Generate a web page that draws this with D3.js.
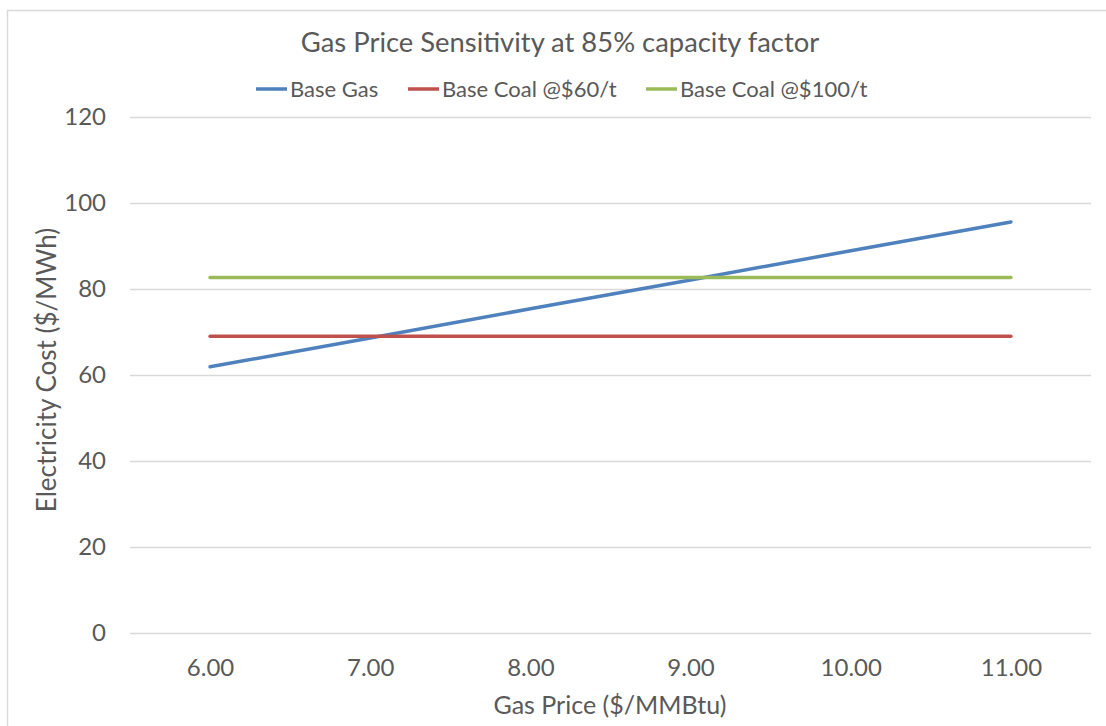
<!DOCTYPE html>
<html>
<head>
<meta charset="utf-8">
<script src="https://cdn.jsdelivr.net/npm/d3@7"></script>
<style>
  body { margin: 0; background: #fff; }
  text { font-family: Lato, "Open Sans", sans-serif; fill: #595959; }
</style>
</head>
<body>
<svg id="chart" width="1106" height="726"></svg>
<script>
var gasPrices = ['6.00', '7.00', '8.00', '9.00', '10.00', '11.00'];
var baseGas = [61.9, 68.6, 75.4, 82.1, 88.9, 95.6];
var coal60 = [69.0, 69.0, 69.0, 69.0, 69.0, 69.0];
var coal100 = [82.7, 82.7, 82.7, 82.7, 82.7, 82.7];
var yTicks = [0, 20, 40, 60, 80, 100, 120];
var seriesNames = ['Base Gas', 'Base Coal @$60/t', 'Base Coal @$100/t'];
var seriesColors = ['#4F81BD', '#C0504D', '#9BBB59'];

var svg = d3.select('#chart');
var padding = { t: 117, r: 15, b: 93, l: 130 };
var chartWidth = 1091 - padding.l;
var chartHeight = 633 - padding.t;

// outer frame (top and left edges only show)
svg.append('line').attr('x1', 7).attr('x2', 1106).attr('y1', 10.5).attr('y2', 10.5)
  .attr('stroke', '#d9d9d9').attr('stroke-width', 1.5);
svg.append('line').attr('x1', 7.5).attr('x2', 7.5).attr('y1', 10).attr('y2', 726)
  .attr('stroke', '#d9d9d9').attr('stroke-width', 1.5);

var chartG = svg.append('g')
  .attr('transform', 'translate(' + [padding.l, padding.t] + ')');

var xScale = d3.scalePoint()
  .domain(gasPrices)
  .range([0, chartWidth])
  .padding(0.5);
var yScale = d3.scaleLinear()
  .domain([0, 120])
  .range([chartHeight, 0]);

// gridlines
chartG.append('g')
  .call(d3.axisLeft(yScale).tickValues(yTicks).tickSize(-chartWidth).tickFormat(''))
  .call(g => g.select('.domain').remove())
  .selectAll('line').attr('stroke', '#d9d9d9').attr('stroke-width', 1.5);

// y labels
var yAxisG = chartG.append('g')
  .call(d3.axisLeft(yScale).tickValues(yTicks).tickSize(0).tickPadding(24))
  .call(g => g.select('.domain').remove());
yAxisG.selectAll('text')
  .style('font-size', '24px').style('font-family', 'Lato, sans-serif').attr('fill', '#595959');

// x labels
var xAxisG = chartG.append('g')
  .attr('transform', 'translate(0,' + chartHeight + ')')
  .call(d3.axisBottom(xScale).tickSize(0).tickPadding(26))
  .call(g => g.select('.domain').remove());
xAxisG.selectAll('text')
  .style('font-size', '24px').style('font-family', 'Lato, sans-serif').attr('fill', '#595959');

var series = [baseGas, coal60, coal100];
var line = d3.line()
  .x((d, i) => xScale(gasPrices[i]))
  .y(d => yScale(d));

chartG.selectAll('.series')
  .data(series)
  .enter()
  .append('path')
  .attr('class', 'series')
  .attr('d', d => line(d))
  .attr('fill', 'none')
  .attr('stroke', (d, i) => seriesColors[i])
  .attr('stroke-width', 3.5)
  .attr('stroke-linecap', 'round');

// title
svg.append('text')
  .attr('x', 560).attr('y', 52)
  .attr('text-anchor', 'middle')
  .style('font-size', '27.4px')
  .text('Gas Price Sensitivity at 85% capacity factor');

// legend
var legendX = [256, 408, 646];
var legendG = svg.selectAll('.legend')
  .data(seriesNames)
  .enter()
  .append('g')
  .attr('class', 'legend')
  .attr('transform', (d, i) => 'translate(' + [legendX[i], 89] + ')');
legendG.append('line')
  .attr('x1', 0).attr('x2', 31)
  .attr('stroke', (d, i) => seriesColors[i])
  .attr('stroke-width', 3.5);
legendG.append('text')
  .attr('x', 34).attr('y', 8)
  .style('font-size', '22px')
  .text(d => d);

// axis titles
svg.append('text')
  .attr('x', 610).attr('y', 714)
  .attr('text-anchor', 'middle')
  .style('font-size', '25px')
  .text('Gas Price ($/MMBtu)');
svg.append('text')
  .attr('transform', 'translate(56,370) rotate(-90)')
  .attr('text-anchor', 'middle')
  .style('font-size', '26px')
  .text('Electricity Cost ($/MWh)');
</script>
</body>
</html>
